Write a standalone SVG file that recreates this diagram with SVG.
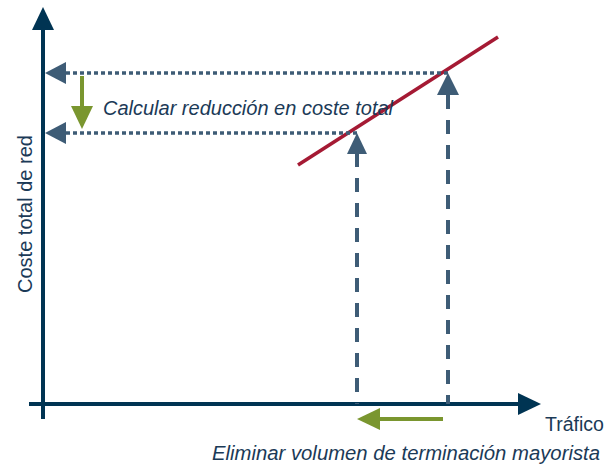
<svg xmlns="http://www.w3.org/2000/svg" width="607" height="466" viewBox="0 0 607 466">
<defs>
<style>
.axis{stroke:#003453;stroke-width:4;fill:none}
.dot{stroke:#3e5c76;stroke-width:3.5;stroke-dasharray:4 3;fill:none}
.dash{stroke:#3e5c76;stroke-width:4;stroke-dasharray:14 11;fill:none}
.green{stroke:#7a962f;stroke-width:4;fill:none}
.head{fill:#3e5c76}
.ghead{fill:#7a962f}
.ahead{fill:#003453}
.lbl{font-family:"Liberation Sans",Arial,sans-serif;font-size:20px;fill:#1b3a57}
.it{font-style:italic}
</style>
</defs>
<rect width="607" height="466" fill="#ffffff"/>
<g id="axes">
<line class="axis" x1="43" y1="28" x2="43" y2="419"/>
<polygon class="ahead" points="43,7 32,30 54,30"/>
<line class="axis" x1="29" y1="404" x2="520" y2="404"/>
<polygon class="ahead" points="541,404 518,393 518,415"/>
</g>
<g id="curve">
<line x1="298" y1="165" x2="498" y2="37" stroke="#a51a34" stroke-width="3.5"/>
</g>
<g id="connectors">
<line class="dot" x1="66" y1="73" x2="448" y2="73"/>
<polygon class="head" points="45,73 66,62 66,84"/>
<line class="dot" x1="66" y1="133" x2="357" y2="133"/>
<polygon class="head" points="45,133 66,122 66,144"/>
<line class="dash" x1="357" y1="153" x2="357" y2="404"/>
<polygon class="head" points="357,133 347,154 367,154"/>
<line class="dash" x1="448" y1="95" x2="448" y2="404"/>
<polygon class="head" points="448,73 437,95 459,95"/>
<line class="green" x1="82" y1="76" x2="82" y2="108"/>
<polygon class="ghead" points="82,129 71,106 93,106"/>
<line class="green" x1="443" y1="419" x2="378" y2="419"/>
<polygon class="ghead" points="357,419 380,408 380,430"/>
</g>
<g id="labels">
<text class="lbl it" x="103" y="115" textLength="290" lengthAdjust="spacingAndGlyphs">Calcular reducción en coste total</text>
<text class="lbl" x="545" y="431" textLength="59" lengthAdjust="spacingAndGlyphs">Tráfico</text>
<text class="lbl it" x="212" y="460" textLength="388" lengthAdjust="spacingAndGlyphs">Eliminar volumen de terminación mayorista</text>
<text class="lbl" transform="translate(32,214) rotate(-90)" text-anchor="middle" textLength="158" lengthAdjust="spacingAndGlyphs">Coste total de red</text>
</g>
</svg>
